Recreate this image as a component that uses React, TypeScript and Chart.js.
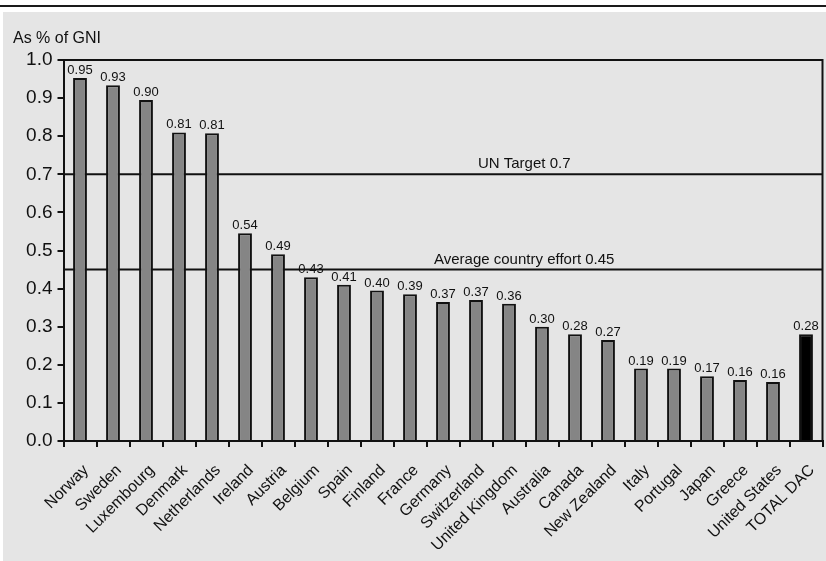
import React, { useEffect, useRef } from "react";
import { Chart, registerables } from "chart.js";

Chart.register(...registerables);

const categories = [
  "Norway", "Sweden", "Luxembourg", "Denmark", "Netherlands", "Ireland", "Austria",
  "Belgium", "Spain", "Finland", "France", "Germany", "Switzerland", "United Kingdom",
  "Australia", "Canada", "New Zealand", "Italy", "Portugal", "Japan", "Greece",
  "United States", "TOTAL DAC",
];
const values = [
  0.953, 0.934, 0.895, 0.81, 0.808, 0.545, 0.49, 0.43, 0.41, 0.395, 0.385, 0.365,
  0.37, 0.36, 0.30, 0.28, 0.265, 0.19, 0.19, 0.17, 0.16, 0.155, 0.28,
];
const valueLabels = [
  "0.95", "0.93", "0.90", "0.81", "0.81", "0.54", "0.49", "0.43", "0.41", "0.40",
  "0.39", "0.37", "0.37", "0.36", "0.30", "0.28", "0.27", "0.19", "0.19", "0.17",
  "0.16", "0.16", "0.28",
];
const refValues = [0.7, 0.45];
const refLabels = ["UN Target 0.7", "Average country effort 0.45"];
const refLabelPos = [0.607, 0.607];
const yAxisTitle = "As % of GNI";

const FONT = "'Liberation Sans', Arial, Helvetica, sans-serif";

export default function App() {
  const ref = useRef<HTMLCanvasElement>(null);

  useEffect(() => {
    document.body.style.margin = "0";
    const canvas = ref.current!;
    const bgPlugin = {
      id: "bg",
      beforeDraw(chart: any) {
        const ctx = chart.ctx;
        ctx.save();
        ctx.fillStyle = "#ffffff";
        ctx.fillRect(0, 0, chart.width, chart.height);
        ctx.fillStyle = "#e5e5e5";
        ctx.fillRect(3, 12, chart.width - 3, chart.height - 12);
        ctx.fillStyle = "#1a1a1a";
        ctx.fillRect(0, 5, chart.width, 2);
        ctx.fillStyle = "#111";
        ctx.font = `16px ${FONT}`;
        ctx.textAlign = "left";
        ctx.textBaseline = "alphabetic";
        ctx.fillText(yAxisTitle, 13, 43);
        ctx.restore();
      },
      beforeDatasetsDraw(chart: any) {
        const ctx = chart.ctx;
        const area = chart.chartArea;
        const y = chart.scales.y;
        ctx.save();
        ctx.strokeStyle = "#111";
        ctx.lineWidth = 2;
        refValues.forEach((v, i) => {
          const py = y.getPixelForValue(v);
          ctx.beginPath();
          ctx.moveTo(area.left, py);
          ctx.lineTo(area.right, py);
          ctx.stroke();
          ctx.fillStyle = "#111";
          ctx.font = `15px ${FONT}`;
          ctx.textAlign = "center";
          ctx.textBaseline = "alphabetic";
          ctx.fillText(refLabels[i], area.left + refLabelPos[i] * (area.right - area.left), py - 6);
        });
        ctx.restore();
      },
      afterDatasetsDraw(chart: any) {
        const ctx = chart.ctx;
        const area = chart.chartArea;
        ctx.save();
        ctx.strokeStyle = "#111";
        ctx.lineWidth = 2;
        ctx.beginPath();
        ctx.moveTo(area.left, area.top);
        ctx.lineTo(area.right, area.top);
        ctx.lineTo(area.right, area.bottom);
        ctx.stroke();
        const meta = chart.getDatasetMeta(0);
        ctx.fillStyle = "#111";
        ctx.font = `13px ${FONT}`;
        ctx.textAlign = "center";
        ctx.textBaseline = "alphabetic";
        meta.data.forEach((bar: any, i: number) => {
          ctx.fillText(valueLabels[i], bar.x, bar.y - 4);
        });
        ctx.restore();
      },
    };

    const chart = new Chart(canvas, {
      type: "bar",
      data: {
        labels: categories,
        datasets: [
          {
            data: values,
            backgroundColor: categories.map((_, i) => (i === categories.length - 1 ? "#000000" : "#858585")),
            borderColor: "#111111",
            borderWidth: 2,
            barPercentage: 0.42,
            categoryPercentage: 1,
          },
        ],
      },
      options: {
        responsive: false,
        animation: false,
        layout: { padding: { top: 60, right: 3.5, left: 0, bottom: 0 } },
        plugins: { legend: { display: false }, tooltip: { enabled: false } },
        scales: {
          x: {
            offset: true,
            grid: { display: true, drawOnChartArea: false, drawTicks: true, tickLength: 6, color: "#111", offset: true, lineWidth: 2 },
            border: { display: true, color: "#111", width: 2 },
            ticks: {
              autoSkip: false,
              maxRotation: 45,
              minRotation: 45,
              color: "#111",
              font: { family: FONT, size: 16 },
              padding: 14,
              labelOffset: 6,
            },
            afterFit(s: any) {
              s.height = 120;
              s.paddingLeft = 0;
              s.paddingRight = 0;
            },
          },
          y: {
            min: 0,
            max: 1,
            grid: { display: true, drawOnChartArea: false, drawTicks: true, tickLength: 6, color: "#111", lineWidth: 2 },
            border: { display: true, color: "#111", width: 2 },
            ticks: {
              stepSize: 0.1,
              color: "#111",
              font: { family: FONT, size: 19 },
              padding: 5,
              callback: (v: any) => Number(v).toFixed(1),
            },
            afterFit(s: any) {
              s.width = 63.5;
              s.paddingTop = 0;
              s.paddingBottom = 0;
            },
          },
        },
      },
      plugins: [bgPlugin],
    });
    return () => chart.destroy();
  }, []);

  return (
    <div style={{ position: "fixed", left: 0, top: 0, width: 826, height: 561 }}>
      <canvas ref={ref} width={826} height={561} />
    </div>
  );
}
